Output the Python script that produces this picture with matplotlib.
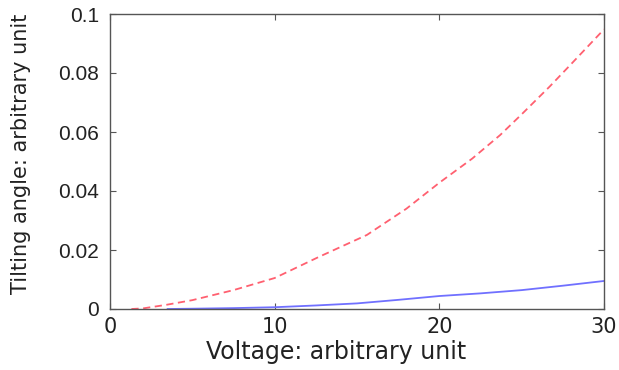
import numpy as np
import matplotlib
matplotlib.use("Agg")
import matplotlib.pyplot as plt

# values
voltage_red = [1.3, 2.0, 3.4, 5.0, 7.5, 10.0, 12.7, 15.6, 18.0, 20.0, 22.0, 23.7, 25.0, 26.7, 28.0, 30.0]
angle_red = [0.0, 0.0002, 0.0014, 0.003, 0.0064, 0.0105, 0.0177, 0.0251, 0.034, 0.0428, 0.051, 0.059, 0.066, 0.0754, 0.083, 0.0948]
voltage_blue = [3.5, 5.0, 7.5, 10.0, 12.5, 15.0, 17.5, 20.0, 22.5, 25.0, 27.5, 30.0]
angle_blue = [0.0, 0.0001, 0.0003, 0.0006, 0.0012, 0.0019, 0.0031, 0.0044, 0.0053, 0.0064, 0.0079, 0.0095]
x_ticks = [0, 10, 20, 30]
y_ticks = [0, 0.02, 0.04, 0.06, 0.08, 0.1]
y_tick_labels = ["0", "0.02", "0.04", "0.06", "0.08", "0.1"]

plt.rcParams["font.family"] = ["DejaVu Sans"]

fig = plt.figure(figsize=(6.19, 3.70), dpi=100)
ax = fig.add_axes([110 / 619, 1 - 309 / 370, 494 / 619, 295 / 370])

ax.plot(voltage_red, angle_red, "--", color="#ff6070", lw=1.3, dashes=(4, 2.5))
ax.plot(voltage_blue, angle_blue, "-", color="#7070ff", lw=1.3)

ax.set_xlim(0, 30)
ax.set_ylim(0, 0.1)
ax.set_xticks(x_ticks)
ax.set_yticks(y_ticks)
ax.set_yticklabels(y_tick_labels, family=["Liberation Sans", "DejaVu Sans"], fontsize=15)
ax.tick_params(direction="in", top=True, right=True, length=4, color="#555555")
ax.tick_params(axis="x", labelsize=15, pad=6)
ax.tick_params(axis="y", pad=8)
for lbl in ax.get_yticklabels() + ax.get_xticklabels():
    lbl.set_color("#222222")
for s in ax.spines.values():
    s.set_color("#555555")
    s.set_linewidth(1.0)

ax.set_xlabel("Voltage: arbitrary unit", fontsize=17, color="#222222")
ax.xaxis.set_label_coords(0.457, -0.105)
ax.set_ylabel("Tilting angle: arbitrary unit", fontsize=15, color="#222222")
ax.yaxis.set_label_coords(-0.16, 0.525)

fig.savefig("out.png", dpi=100)
